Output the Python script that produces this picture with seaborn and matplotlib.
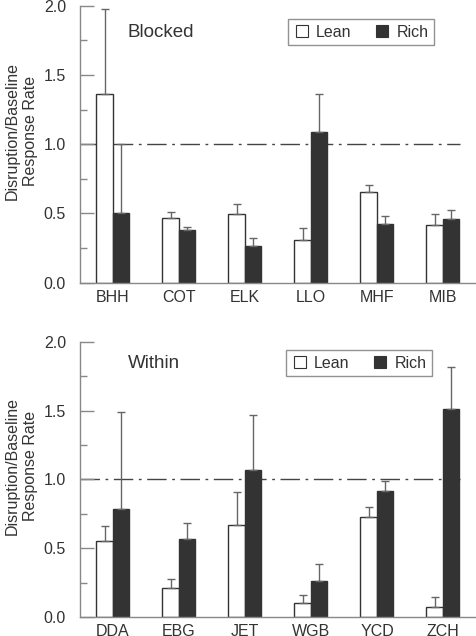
import matplotlib
matplotlib.use("Agg")
import matplotlib.pyplot as plt
from matplotlib.lines import Line2D
import pandas as pd
import seaborn as sns

# ---------------------------------------------------------------------------
# Data
# ---------------------------------------------------------------------------
conditions = ["Lean", "Rich"]

blocked_subjects = ["BHH", "COT", "ELK", "LLO", "MHF", "MIB"]
blocked_lean = [1.365, 0.469, 0.493, 0.308, 0.655, 0.416]
blocked_rich = [0.503, 0.378, 0.262, 1.085, 0.424, 0.460]
blocked_lean_err = [0.611, 0.041, 0.073, 0.089, 0.050, 0.080]
blocked_rich_err = [0.498, 0.026, 0.060, 0.277, 0.057, 0.067]

within_subjects = ["DDA", "EBG", "JET", "WGB", "YCD", "ZCH"]
within_lean = [0.553, 0.208, 0.669, 0.099, 0.727, 0.070]
within_rich = [0.788, 0.570, 1.067, 0.259, 0.916, 1.515]
within_lean_err = [0.109, 0.071, 0.240, 0.061, 0.071, 0.073]
within_rich_err = [0.705, 0.116, 0.400, 0.129, 0.071, 0.306]

LEAN_COLOR = "white"
RICH_COLOR = "#333333"
EDGE_COLOR = "#333333"
ERR_COLOR = "#666666"
SPINE_COLOR = "#888888"
TEXT_COLOR = "#333333"

sns.set_style("white")
plt.rcParams["font.family"] = ["Liberation Sans", "DejaVu Sans"]


def draw_panel(ax, subjects, lean, rich, lean_err, rich_err, title, legend_anchor):
    df = pd.DataFrame({
        "subject": subjects * 2,
        "condition": ["Lean"] * len(subjects) + ["Rich"] * len(subjects),
        "value": lean + rich,
        "err": lean_err + rich_err,
    })
    sns.barplot(
        data=df, x="subject", y="value", hue="condition",
        order=subjects, hue_order=conditions,
        palette={"Lean": LEAN_COLOR, "Rich": RICH_COLOR},
        width=0.5, gap=0, edgecolor=EDGE_COLOR, linewidth=1.0,
        errorbar=None, legend=False, saturation=1, ax=ax,
    )
    # one-sided error bars on top of each bar
    patches = [p for p in ax.patches if p.get_height() > 0]
    patches.sort(key=lambda p: p.get_x())
    vals = []
    for s in subjects:
        row = df[df["subject"] == s]
        vals.extend(list(zip(row["value"], row["err"])))
    for p, (v, e) in zip(patches, vals):
        cx = p.get_x() + p.get_width() / 2
        ax.errorbar(cx, v, yerr=[[0], [e]], fmt="none", ecolor=ERR_COLOR,
                    elinewidth=1.0, capsize=3.2, capthick=1.0, zorder=1)

    ax.axhline(1.0, xmin=0, xmax=(5.26 + 0.5) / 6.0, color="#444444",
               linewidth=1.0, linestyle=(0, (14, 4, 2, 4)), zorder=0.5)

    ax.set_xlim(-0.5, 5.5)
    ax.set_ylim(0, 2.0)
    ax.set_yticks([0, 0.5, 1.0, 1.5, 2.0])
    ax.set_yticklabels(["0.0", "0.5", "1.0", "1.5", "2.0"])
    ax.set_yticks([0.25, 0.75, 1.25, 1.75], minor=True)
    ax.tick_params(axis="y", which="major", direction="in", length=10,
                   width=1, color=SPINE_COLOR, labelsize=11.5, labelcolor=TEXT_COLOR,
                   pad=10, left=True)
    ax.tick_params(axis="y", which="minor", direction="in", length=5,
                   width=1, color=SPINE_COLOR, left=True)
    ax.tick_params(axis="x", length=0, labelsize=11.5, labelcolor=TEXT_COLOR, pad=5)
    ax.set_xlabel("")
    ax.set_ylabel("Disruption/Baseline\nResponse Rate", fontsize=11.5,
                  color=TEXT_COLOR, linespacing=1.3)
    ax.yaxis.set_label_coords(-0.106, 0.548)
    for side in ["top", "right"]:
        ax.spines[side].set_visible(False)
    for side in ["left", "bottom"]:
        ax.spines[side].set_color(SPINE_COLOR)
        ax.spines[side].set_linewidth(1.0)

    ax.text(0.12, 0.905 if title == "Blocked" else 0.92, title,
            transform=ax.transAxes, fontsize=13.5, color=TEXT_COLOR,
            va="center", ha="left")

    handles = [
        Line2D([], [], marker="s", linestyle="none", markersize=8.5,
               markerfacecolor=LEAN_COLOR, markeredgecolor=EDGE_COLOR,
               markeredgewidth=0.8, label="Lean"),
        Line2D([], [], marker="s", linestyle="none", markersize=8.5,
               markerfacecolor=RICH_COLOR, markeredgecolor=EDGE_COLOR,
               markeredgewidth=0.8, label="Rich"),
    ]
    leg = ax.legend(handles=handles, loc="upper right", bbox_to_anchor=legend_anchor,
                    ncol=2, frameon=True, fancybox=False, fontsize=11.5,
                    handletextpad=0.4, columnspacing=1.4, borderpad=0.35,
                    handlelength=1.0, borderaxespad=0)
    leg.get_frame().set_edgecolor("#777777")
    leg.get_frame().set_linewidth(1.0)
    for t in leg.get_texts():
        t.set_color(TEXT_COLOR)


fig = plt.figure(figsize=(4.76, 6.36), dpi=100)
ax_top = fig.add_axes([0.168, 0.5555, 0.832, 0.4355])
ax_bot = fig.add_axes([0.168, 0.0299, 0.832, 0.4324])

draw_panel(ax_top, blocked_subjects, blocked_lean, blocked_rich,
           blocked_lean_err, blocked_rich_err, "Blocked", (0.894, 0.952))
draw_panel(ax_bot, within_subjects, within_lean, within_rich,
           within_lean_err, within_rich_err, "Within", (0.889, 0.970))

fig.savefig("out.png", dpi=100, facecolor="white")
plt.close(fig)
